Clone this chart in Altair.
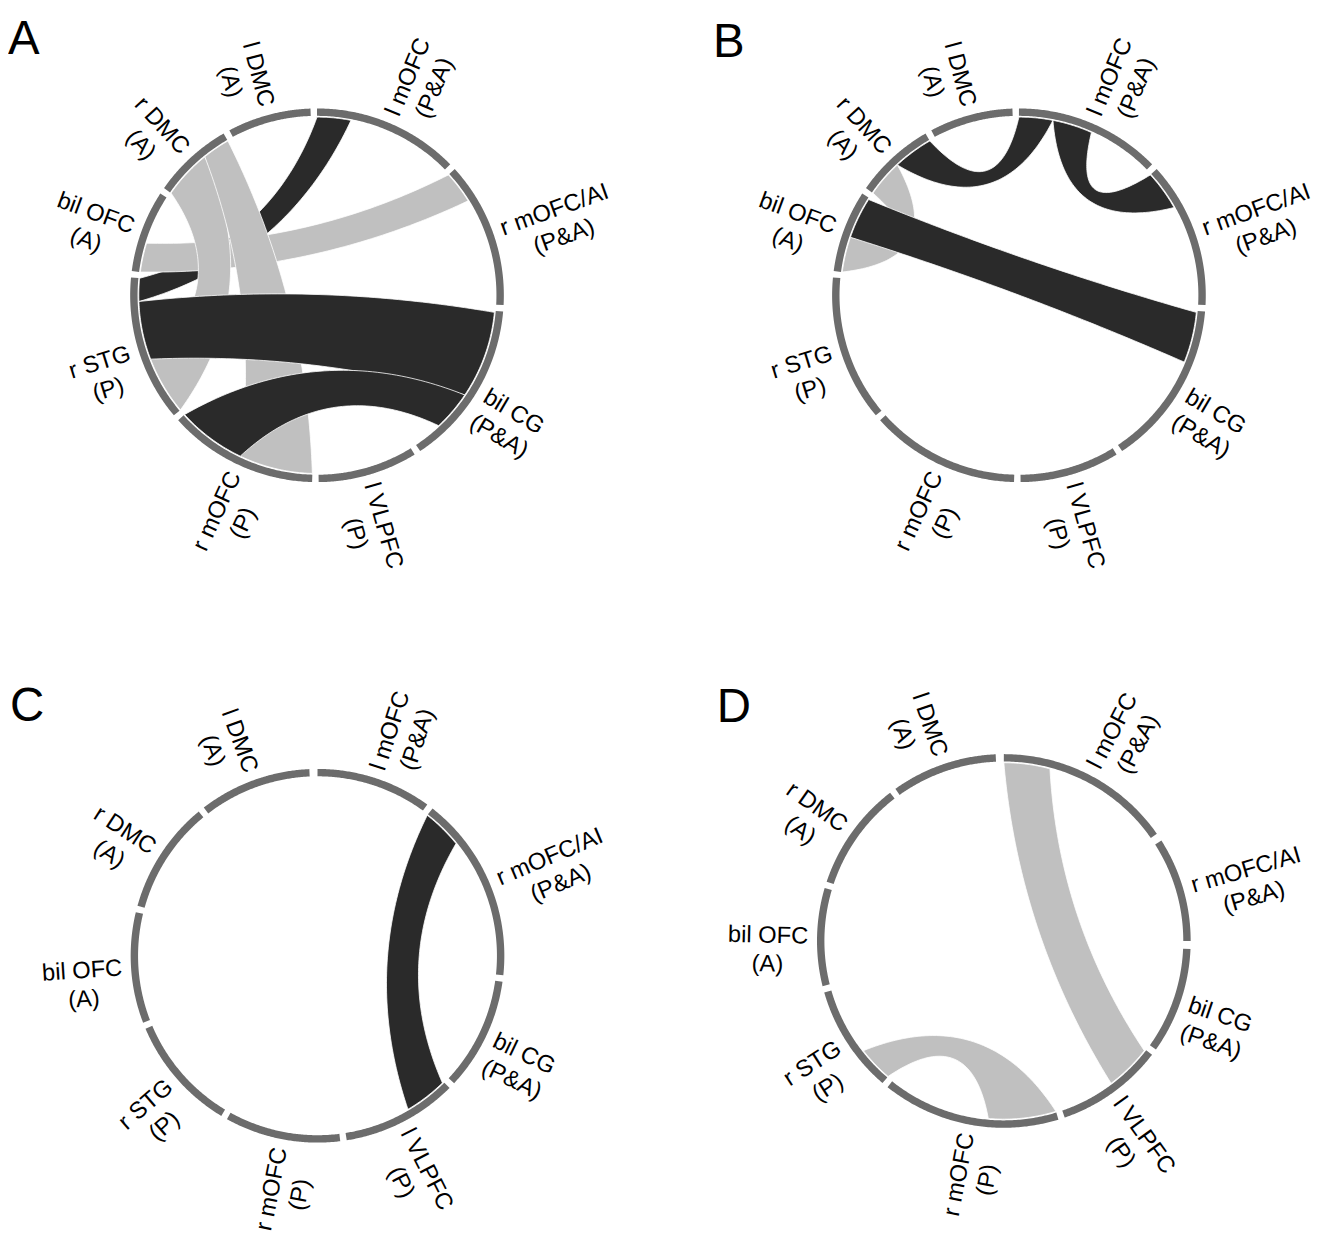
import math
import numpy as np
import pandas as pd
import altair as alt

# ---------------- data ----------------
regions = ["l mOFC", "r mOFC/AI", "bil CG", "l VLPFC", "r mOFC",
           "r STG", "bil OFC", "r DMC", "l DMC"]
conditions = ["(P&A)", "(P&A)", "(P&A)", "(P)", "(P)", "(P)", "(A)", "(A)", "(A)"]

# sector spans in degrees, clockwise from 12 o'clock
starts_A = [0, 47.5, 95, 148.5, 181.5, 230, 277.5, 305, 332]
ends_A = [45.5, 93, 146.5, 179.5, 228, 275.5, 303, 330, 358]
starts_B = [0, 47.5, 95, 148.5, 181.5, 230, 277.5, 305, 332]
ends_B = [45.5, 93, 146.5, 179.5, 228, 275.5, 303, 330, 358]
starts_C = [0, 38, 98, 135, 173, 211, 249, 285.5, 322.5]
ends_C = [36, 96, 133, 171, 209, 247, 283.5, 320.5, 357.5]
starts_D = [0, 57.5, 92.5, 127.5, 163, 220.5, 256, 288.5, 324.5]
ends_D = [55, 90, 125.5, 161, 218.5, 254, 286.5, 322.5, 357.5]

# links: (from region, start, end, to region, start, end, tone) in drawing order
links_A = [
    ("l mOFC", 0, 11, "r STG", 268, 275.5, "dark"),
    ("r mOFC/AI", 47.5, 58, "bil OFC", 277.5, 287, "light"),
    ("r DMC", 305, 321, "r STG", 230, 249, "light"),
    ("r DMC", 321, 330, "r mOFC", 181.5, 205.5, "light"),
    ("r STG", 249, 268, "bil CG", 95.5, 124, "dark"),
    ("r mOFC", 205.5, 228, "bil CG", 124, 137, "dark"),
]
links_B = [
    ("r DMC", 305, 317, "bil OFC", 277.5, 289, "light"),
    ("bil OFC", 289, 302.5, "bil CG", 95.5, 112, "dark"),
    ("l mOFC", 0, 11, "r DMC", 317, 330, "dark"),
    ("l mOFC", 11, 24, "r mOFC/AI", 47.5, 60.5, "dark"),
]
links_C = [
    ("r mOFC/AI", 38, 51, "l VLPFC", 135.5, 149.5, "dark"),
]
links_D = [
    ("l mOFC", 0, 15, "l VLPFC", 128, 143, "light"),
    ("r STG", 220.5, 232, "r mOFC", 163, 185, "light"),
]

# ---------------- styling / layout ----------------
RING = "#6c6c6c"
TONES = {"dark": "#2a2a2a", "light": "#c0c0c0"}
FONT = "Liberation Sans"
FS = 24
PANEL_W, PANEL_H = 658, 613
R_RING, RING_W = 185.5, 7.5
R_OUT = R_RING + RING_W / 2
R_LINK = 180.5
centers = {"A": (313, 283), "B": (366, 283), "C": (313.5, 339), "D": (350.7, 324)}
letter_pos = {"A": (0, 39), "B": (56, 42), "C": (2, 101), "D": (60, 102)}

CW = {' ': 278, '(': 333, ')': 333, '&': 667, '/': 278, 'A': 667, 'C': 722, 'D': 722,
      'F': 611, 'G': 778, 'I': 278, 'L': 556, 'M': 833, 'O': 778, 'P': 667, 'S': 667,
      'T': 611, 'V': 667, 'b': 556, 'i': 222, 'l': 222, 'm': 833, 'r': 333}


def tw(s):
    return sum(CW.get(c, 600) for c in s) / 1000 * FS


def xy(theta, r):
    t = math.radians(theta)
    return r * math.sin(t), r * math.cos(t)


def short_diff(p, q):
    return ((q - p + 180) % 360) - 180


def edge(p, q, h, n=60):
    d = short_diff(p, q)
    mid = p + d / 2
    m = R_LINK * math.cos(math.radians(d / 2))
    cx, cy = xy(mid, m - 2 * h)
    px, py = xy(p, R_LINK)
    qx, qy = xy(q, R_LINK)
    pts = []
    for t in np.linspace(0, 1, n):
        a, b, c = (1 - t) ** 2, 2 * t * (1 - t), t * t
        pts.append((a * px + b * cx + c * qx, a * py + b * cy + c * qy))
    return pts


def ribbon(a1, a2, b1, b2):
    am, bm = (a1 + a2) / 2, (b1 + b2) / 2
    dm = short_diff(am, bm)
    h = 0.26 * R_LINK * math.cos(math.radians(dm / 2))
    pts = [xy(t, R_LINK) for t in np.linspace(a1, a2, 30)]
    pts += edge(a2, b1, h)
    pts += [xy(t, R_LINK) for t in np.linspace(b1, b2, 30)]
    pts += edge(b2, a1, h)
    return pts


def panel(key, starts, ends, links):
    cx, cy = centers[key]
    xs = alt.Scale(domain=[-cx, PANEL_W - cx], nice=False, zero=False)
    ys = alt.Scale(domain=[-(PANEL_H - cy), cy], nice=False, zero=False)
    X = alt.X("x:Q", scale=xs, axis=None)
    Y = alt.Y("y:Q", scale=ys, axis=None)

    rows = []
    for k, (s, e) in enumerate(zip(starts, ends)):
        for i, t in enumerate(np.linspace(s, e, 90)):
            x, y = xy(t, R_RING)
            rows.append({"seg": regions[k], "i": i, "x": x, "y": y})
    layers = [alt.Chart(pd.DataFrame(rows)).mark_line(
        stroke=RING, strokeWidth=RING_W, strokeCap="butt").encode(
        x=X, y=Y, detail="seg:N", order="i:Q")]

    for (fr, a1, a2, to, b1, b2, tone) in links:
        pts = ribbon(a1, a2, b1, b2)
        df = pd.DataFrame({"i": range(len(pts)),
                           "x": [p[0] for p in pts], "y": [p[1] for p in pts],
                           "link": f"{fr} - {to}"})
        layers.append(alt.Chart(df).mark_line(
            fill=TONES[tone], stroke="white", strokeWidth=0.8, strokeJoin="round").encode(
            x=X, y=Y, order="i:Q"))

    lab = []
    for k, (s, e) in enumerate(zip(starts, ends)):
        mid = (s + e) / 2
        rot = mid - 90 if mid < 180 else mid - 270
        r = R_OUT + 9 + max(tw(regions[k]), tw(conditions[k])) / 2
        x, y = xy(mid, r)
        lab.append({"x": x, "y": y, "angle": rot % 360,
                    "label": regions[k] + "\n" + conditions[k]})
    layers.append(alt.Chart(pd.DataFrame(lab)).mark_text(
        font=FONT, fontSize=FS, lineBreak="\n", lineHeight=29,
        align="center", baseline="middle", color="black").encode(
        x=X, y=Y, text="label:N", angle=alt.Angle("angle:Q", scale=None)))

    lx, ly = letter_pos[key]
    layers.append(alt.Chart(pd.DataFrame({"t": [key]})).mark_text(
        font=FONT, fontSize=48, align="left", baseline="alphabetic", color="black").encode(
        text="t:N", x=alt.value(lx), y=alt.value(ly)))

    return alt.layer(*layers).properties(width=PANEL_W, height=PANEL_H)


pA = panel("A", starts_A, ends_A, links_A)
pB = panel("B", starts_B, ends_B, links_B)
pC = panel("C", starts_C, ends_C, links_C)
pD = panel("D", starts_D, ends_D, links_D)

chart = alt.concat(
    pA, pB, pC, pD, columns=2, spacing=0, bounds="flush"
).properties(padding=0).configure_view(stroke=None)

chart.save("out.html", embed_options={"renderer": "svg", "actions": False})
